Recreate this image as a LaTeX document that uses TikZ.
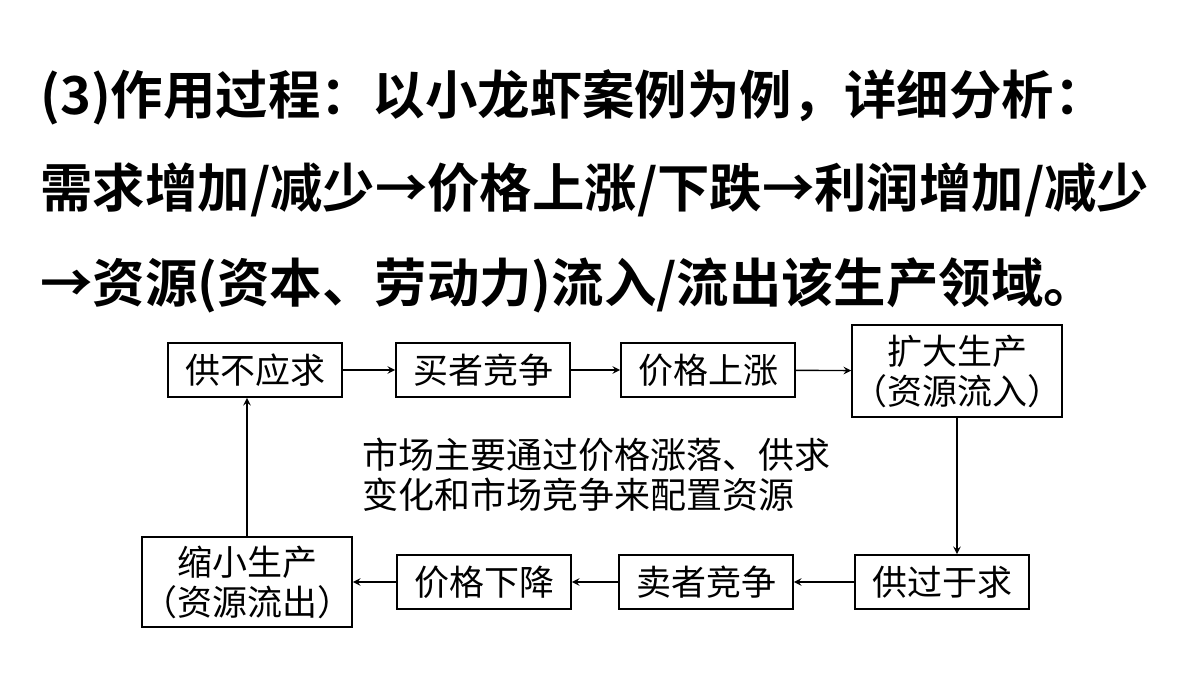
\documentclass[tikz,border=0pt]{standalone}
\usepackage{fontspec}
\newfontfamily\cjk{Noto Sans CJK SC}
\newfontfamily\cjkb{Noto Sans CJK SC Bold}
\usetikzlibrary{positioning}

\tikzset{
  flow/.style={draw,line width=0.8pt,inner sep=0pt,align=center,font=\cjk\fontsize{17.5}{20}\selectfont},
  title/.style={anchor=west,inner sep=0pt,font=\cjkb\fontsize{26.2}{30}\selectfont},
  link/.style={->,>=stealth,line width=0.7pt}
}

\begin{document}
\begin{tikzpicture}[x=0.5pt,y=-0.5pt]
   \useasboundingbox (0,0) rectangle (1200,675);
   \node[title] (t1) at (40,97)  {(3)作用过程：以小龙虾案例为例，详细分析：};
   \node[title] (t2) at (40,190) {需求增加/减少→价格上涨/下跌→利润增加/减少};
   \node[title] (t3) at (40,285) {→资源(资本、劳动力)流入/流出该生产领域。};

   \node[flow,minimum width=87pt,minimum height=27pt] (short)  at (255,370) {供不应求};
   \node[flow,minimum width=87pt,minimum height=27pt] (buyer)  at (483,370) {买者竞争};
   \node[flow,minimum width=87pt,minimum height=27pt] (rise)   at (708,370) {价格上涨};
   \node[flow,minimum width=102pt,minimum height=46pt] (expand) at (957,371) {扩大生产\\（资源流入）};
   \node[flow,minimum width=87pt,minimum height=27pt] (surplus) at (942,582) {供过于求};
   \node[flow,minimum width=87pt,minimum height=27pt] (seller) at (706,582) {卖者竞争};
   \node[flow,minimum width=87pt,minimum height=27pt] (fall)   at (484,582) {价格下降};
   \node[flow,minimum width=100pt,minimum height=45pt] (shrink) at (247,582) {缩小生产\\（资源流出）};
   \node[anchor=west,align=left,font=\cjk\fontsize{18}{20}\selectfont] (note) at (355,475)
      {市场主要通过价格涨落、供求\\变化和市场竞争来配置资源};

   \draw[link] (short) -- (buyer);
   \draw[link] (buyer) -- (rise);
   \draw[link] (rise) -- (expand);
   \draw[link] (expand.south) -- (expand.south |- surplus.north);
   \draw[link] (surplus) -- (seller);
   \draw[link] (seller) -- (fall);
   \draw[link] (fall) -- (shrink);
   \draw[link] (shrink.north) -- (shrink.north |- short.south);
\end{tikzpicture}
\end{document}
